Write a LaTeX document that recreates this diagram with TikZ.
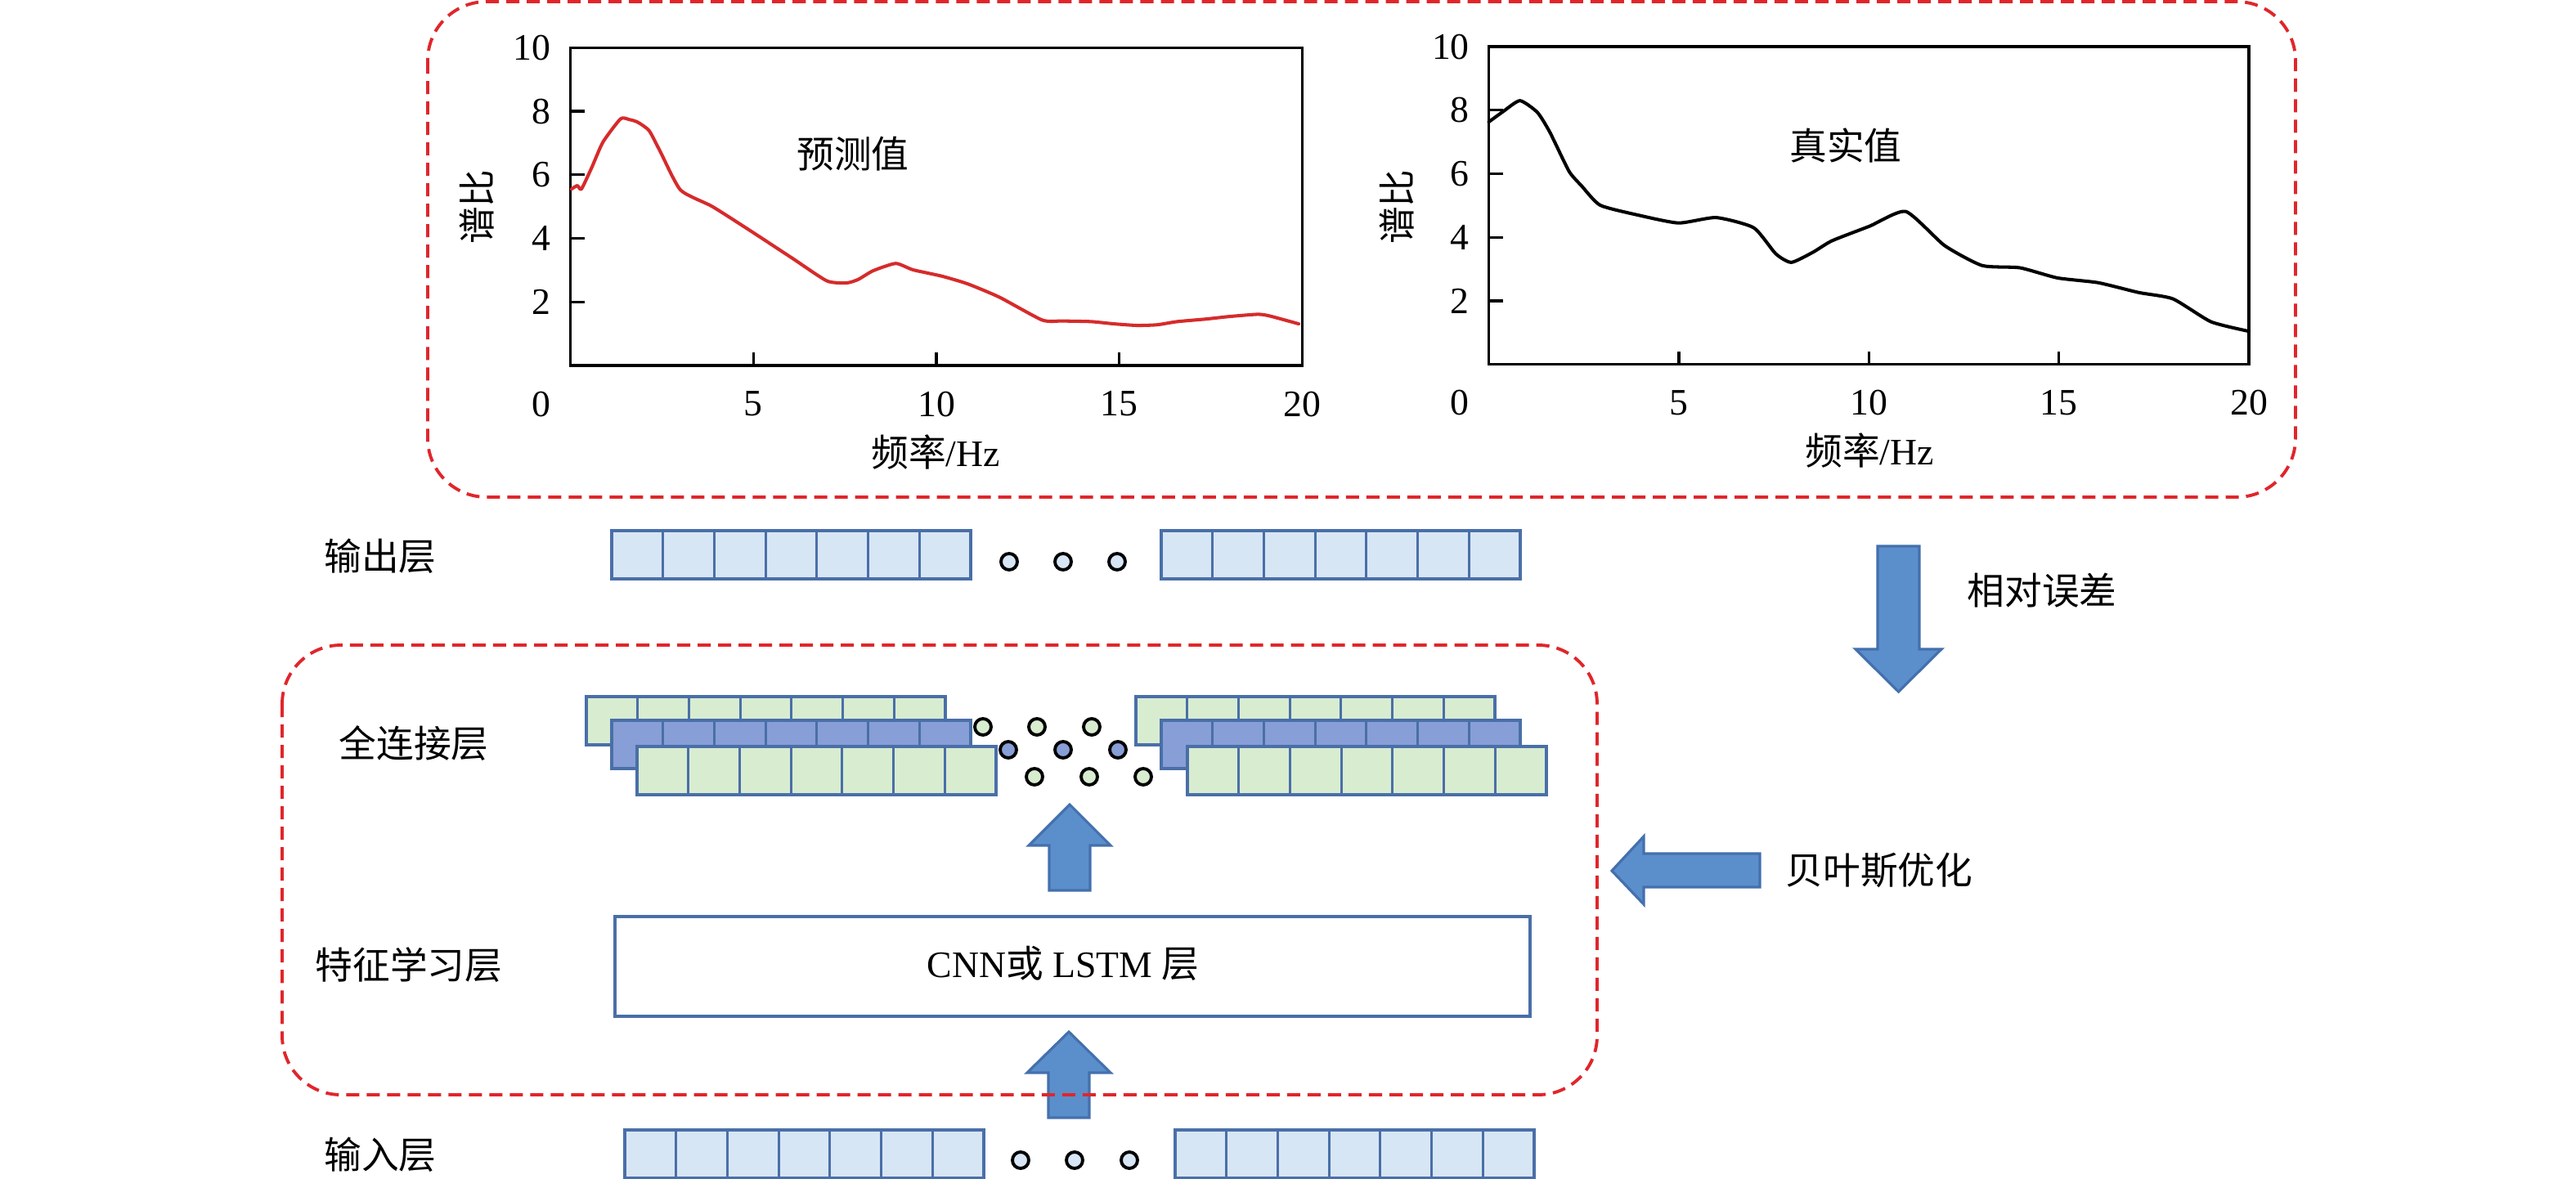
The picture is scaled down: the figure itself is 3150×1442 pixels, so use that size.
\documentclass[tikz,border=0pt]{standalone}
\usepackage{fontspec}
\setmainfont{Liberation Serif}
\newfontfamily\cjk{Noto Sans CJK SC}
\usetikzlibrary{calc}
\definecolor{cellblue}{HTML}{D7E6F5}
\definecolor{cellgreen}{HTML}{D8ECD0}
\definecolor{cellmid}{HTML}{879FD6}
\definecolor{cellline}{HTML}{4A6FA8}
\definecolor{arrowfill}{HTML}{5B8FCB}
\definecolor{arrowline}{HTML}{4470AD}
\definecolor{dashred}{HTML}{E0262B}
\definecolor{curvered}{HTML}{D62B2B}
\tikzset{
  lab/.style={font=\cjk\fontsize{13}{15}\selectfont, inner sep=0pt},
  num/.style={font=\fontsize{13}{15}\selectfont, inner sep=0pt},
  rowbox/.style={draw=cellline, line width=1.1pt, minimum width=4.39cm, minimum height=0.59cm, inner sep=0pt, outer sep=0pt, anchor=north west},
  rowline/.style={draw=cellline, line width=0.8pt},
  dot/.style={circle, draw=black, line width=1.1pt, minimum size=0.2cm, inner sep=0pt},
  barrow/.style={fill=arrowfill, draw=arrowline, line width=0.9pt, line join=miter},
  dashbox/.style={draw=dashred, line width=1.1pt, dash pattern=on 0.16cm off 0.09cm, rounded corners=0.72cm},
  frame/.style={draw=black, line width=0.95pt},
  curve/.style={line width=1.15pt, line join=round, line cap=round},
}
\newcommand{\drawcellrow}[4]{%
  \node[rowbox, fill=#4] (#1) at (#2,#3) {};
  \foreach \k in {1,...,6}{\draw[rowline] ($(#1.north west)+(\k*62.71,0)$) -- ($(#1.south west)+(\k*62.71,0)$);}
}
\begin{document}
\begin{tikzpicture}[x=0.01cm, y=-0.01cm]
\useasboundingbox (0,0) rectangle (3150,1442);

% ---------- plot 1 (predicted) ----------
\begin{scope}[shift={(697.5,447)}, x=0.44725cm, y=0.3885cm]
  \draw[frame] (0,0) rectangle (20,10);
  \foreach \t in {5,10,15} \draw[frame] (\t,0) -- ++(0,0.41);
  \foreach \t in {2,4,6,8} \draw[frame] (0,\t) -- ++(0.39,0);
  \foreach \t in {2,4,6,8,10} \node[num, anchor=east, xshift=-0.235cm] (pay\t) at (0,\t) {\t};
  \node[num, xshift=-0.355cm, yshift=-0.47cm] (pax0) at (0,0) {0};
  \foreach \t in {5,10,15,20} \node[num, yshift=-0.47cm] (pax\t) at (\t,0) {\t};
  \draw[curvered, curve] plot[smooth, tension=0.35] coordinates {
    (0.03,5.55) (0.19,5.66) (0.3,5.55) (0.58,6.22) (0.89,7.03) (1.37,7.76) (1.6,7.74)
    (1.83,7.66) (2.15,7.39) (2.46,6.72) (3.01,5.52) (3.88,5.0) (4.97,4.2) (6.07,3.37)
    (7.01,2.66) (7.56,2.6) (7.87,2.71) (8.27,2.98) (8.89,3.21) (9.36,3.01) (10.15,2.81)
    (10.85,2.57) (11.72,2.15) (12.89,1.43) (13.44,1.40) (14.23,1.38) (14.85,1.31)
    (15.48,1.26) (16.03,1.28) (16.58,1.38) (17.36,1.46) (18.0,1.54) (18.78,1.61)
    (19.1,1.56) (19.9,1.31)};
\end{scope}
\node[lab] (pred) at (1043,188) {预测值};
\node[lab, rotate=90] (ylab1) at (583,253) {谱比};
\node[num] (xlab1) at (1144,553) {{\cjk 频率}/Hz};

% ---------- plot 2 (true) ----------
\begin{scope}[shift={(1820.5,445.6)}, x=0.46455cm, y=0.3883cm]
  \draw[frame] (0,0) rectangle (20,10);
  \foreach \t in {5,10,15} \draw[frame] (\t,0) -- ++(0,0.41);
  \foreach \t in {2,4,6,8} \draw[frame] (0,\t) -- ++(0.38,0);
  \foreach \t in {2,4,6,8,10} \node[num, anchor=east, xshift=-0.23cm] (pby\t) at (0,\t) {\t};
  \node[num, xshift=-0.36cm, yshift=-0.47cm] (pbx0) at (0,0) {0};
  \foreach \t in {5,10,15,20} \node[num, yshift=-0.47cm] (pbx\t) at (\t,0) {\t};
  \draw[black, curve] plot[smooth, tension=0.35] coordinates {
    (0,7.63) (0.38,7.96) (0.82,8.30) (1.28,7.93) (1.61,7.30) (2.11,6.08) (2.44,5.62)
    (2.93,5.01) (3.92,4.70) (4.99,4.45) (5.98,4.62) (6.97,4.30) (7.55,3.48) (7.96,3.21)
    (8.53,3.53) (9.03,3.89) (10.02,4.35) (10.97,4.81) (11.99,3.74) (12.98,3.11)
    (13.97,3.04) (14.96,2.72) (16.03,2.57) (17.1,2.26) (18.0,2.06) (19.0,1.34) (20.0,1.04)};
\end{scope}
\node[lab] (truev) at (2257,178) {真实值};
\node[lab, rotate=90] (ylab2) at (1708,253) {谱比};
\node[num] (xlab2) at (2286,551) {{\cjk 频率}/Hz};

% ---------- layer labels ----------
\node[lab] (outl) at (465,680) {输出层};
\node[lab] (fcl) at (506,909) {全连接层};
\node[lab] (featl) at (500,1180) {特征学习层};
\node[lab] (inl) at (465,1412) {输入层};
\node[lab] (errl) at (2497,722) {相对误差};
\node[lab] (bayl) at (2298,1064) {贝叶斯优化};

% ---------- output layer ----------
\drawcellrow{outA}{748}{649}{cellblue}
\drawcellrow{outB}{1420}{649}{cellblue}
\foreach \x [count=\i] in {1234,1300,1366} \node[dot, fill=cellblue] (od\i) at (\x,687) {};

% ---------- fully connected layer ----------
\drawcellrow{fcA1}{717}{852}{cellgreen}
\drawcellrow{fcA2}{748}{881}{cellmid}
\drawcellrow{fcA3}{779}{913}{cellgreen}
\drawcellrow{fcB1}{1389}{852}{cellgreen}
\drawcellrow{fcB2}{1420}{881}{cellmid}
\drawcellrow{fcB3}{1452}{913}{cellgreen}
\foreach \x [count=\i] in {1202,1268,1335} \node[dot, fill=cellgreen] (fa\i) at (\x,889) {};
\foreach \x [count=\i] in {1233,1300,1367} \node[dot, fill=cellmid] (fb\i) at (\x,917) {};
\foreach \x [count=\i] in {1265,1332,1398} \node[dot, fill=cellgreen] (fc\i) at (\x,950) {};

% ---------- feature learning layer ----------
\node[draw=cellline, line width=1.1pt, fill=white, minimum width=11.18cm, minimum height=1.22cm, inner sep=0pt, anchor=north west] (cnn) at (750,1119) {};
\node[num] (cnntext) at (1300,1178) {CNN{\cjk 或} LSTM {\cjk 层}};

% ---------- input layer ----------
\drawcellrow{inA}{764}{1382}{cellblue}
\drawcellrow{inB}{1437}{1382}{cellblue}
\foreach \x [count=\i] in {1248,1314,1381} \node[dot, fill=cellblue] (id\i) at (\x,1419) {};

% ---------- block arrows ----------
\coordinate (upA) at (1308,1089);
\draw[barrow] ($(upA)+(-25,0)$) -- ++(0,-55) -- ++(-25,0) -- ($(upA)+(0,-105)$) -- ($(upA)+(50,-55)$) -- ++(-25,0) -- ($(upA)+(25,0)$) -- cycle;
\coordinate (upB) at (1307,1367);
\draw[barrow] ($(upB)+(-25,0)$) -- ++(0,-55) -- ++(-26,0) -- ($(upB)+(0,-105)$) -- ($(upB)+(51,-55)$) -- ++(-26,0) -- ($(upB)+(25,0)$) -- cycle;
\coordinate (downA) at (2321.5,668);
\draw[barrow] ($(downA)+(-25.5,0)$) -- ++(0,126) -- ++(-27,0) -- ($(downA)+(0,178)$) -- ($(downA)+(52.5,126)$) -- ++(-27,0) -- ($(downA)+(25.5,0)$) -- cycle;
\coordinate (leftA) at (2152,1065);
\draw[barrow] ($(leftA)+(0,-21)$) -- ++(-142,0) -- ++(0,-21) -- ($(leftA)+(-181,0)$) -- ($(leftA)+(-142,41)$) -- ++(0,-21) -- ($(leftA)+(0,20)$) -- cycle;

% ---------- dashed frames ----------
\draw[dashbox] (523,2) rectangle (2807,608);
\draw[dashbox] (345,789) rectangle (1953,1339);
\end{tikzpicture}
\end{document}
